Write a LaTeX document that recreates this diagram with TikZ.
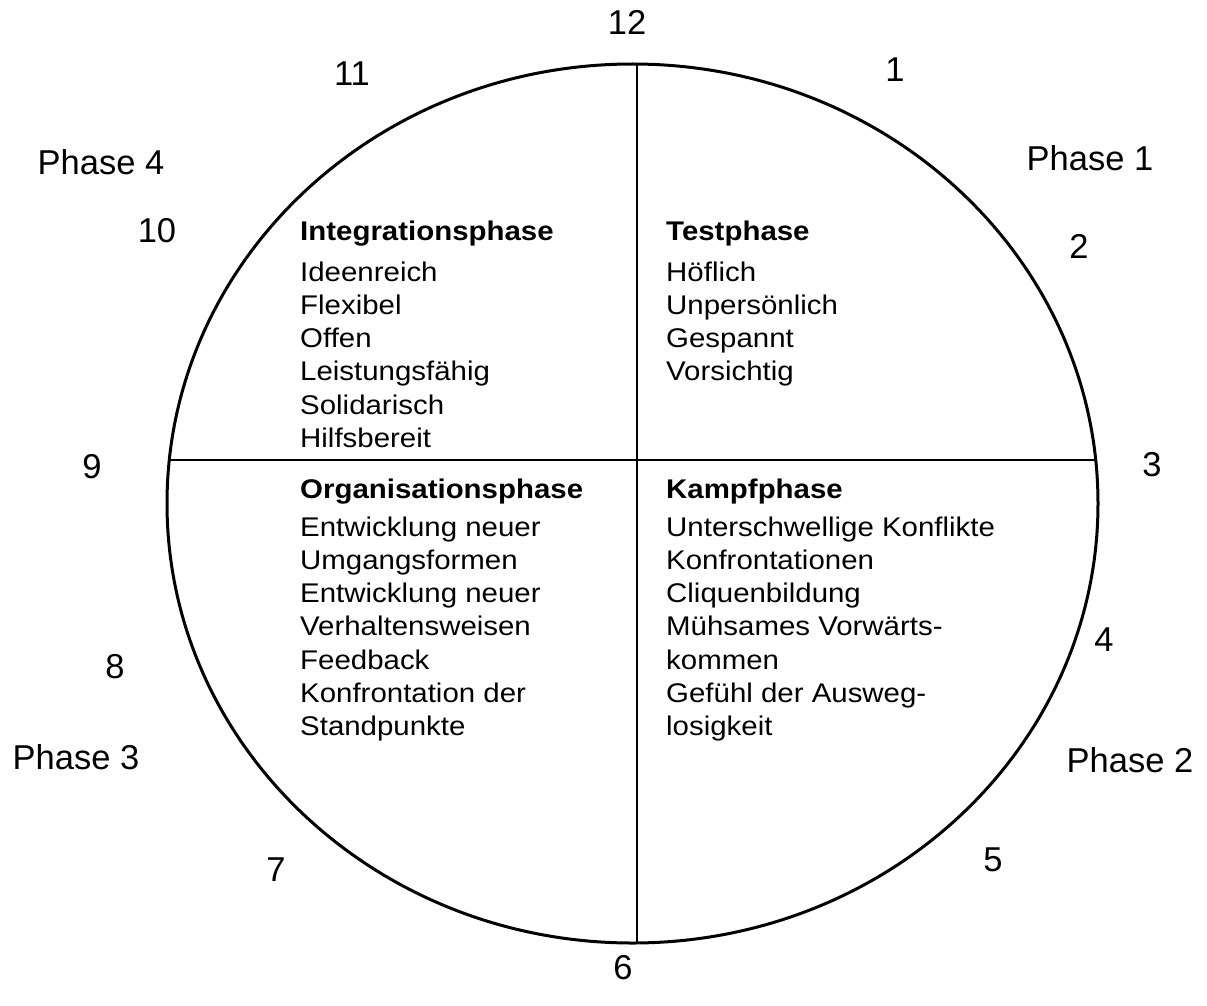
\documentclass[tikz,border=0pt]{standalone}
\usepackage{fontspec}
\setmainfont{Liberation Sans}
\newfontfamily\bodyfont[FakeStretch=1.09]{Liberation Sans}
\begin{document}
\begin{tikzpicture}[x=1pt,y=-1pt,
  body/.style={anchor=base west,inner sep=0pt,font=\bodyfont\fontsize{27}{33}\selectfont},
  head/.style={body,font=\bodyfont\bfseries\fontsize{27}{33}\selectfont},
  lab/.style={anchor=center,inner sep=0pt,font=\fontsize{34.5}{40}\selectfont},
  rim/.style={line width=3pt},
  divider/.style={line width=2.5pt}]
\useasboundingbox (0,0) rectangle (1207,1006);
% circle and quadrant lines
\draw[rim] (632.5,503.5) ellipse [x radius=465.5, y radius=439.5];
\coordinate (top) at (637,64);
\coordinate (bot) at (637,943);
\coordinate (lft) at (169,460);
\coordinate (rgt) at (1096,460);
\draw[divider] (top) -- (bot);
\draw[divider] (lft) -- (rgt);
% clock numbers and phase labels
\node[lab] (n12) at (627,22) {12};
\node[lab] (n1) at (895,70) {1};
\node[lab] (n11) at (352,74) {11};
\node[lab] (p4) at (101,162) {Phase 4};
\node[lab] (p1) at (1090,158) {Phase 1};
\node[lab] (n10) at (157,231) {10};
\node[lab] (n2) at (1079,246) {2};
\node[lab] (n3) at (1152,465) {3};
\node[lab] (n9) at (92,467) {9};
\node[lab] (n4) at (1104,640) {4};
\node[lab] (n8) at (115,667) {8};
\node[lab] (p3) at (76,757) {Phase 3};
\node[lab] (p2) at (1130,760) {Phase 2};
\node[lab] (n7) at (276,870) {7};
\node[lab] (n5) at (993,860) {5};
\node[lab] (n6) at (623,968) {6};
% quadrant texts
\node[head] (hUL) at (300,240) {Integrationsphase};
\foreach \t [count=\i] in {Ideenreich,Flexibel,Offen,Leistungsfähig,Solidarisch,Hilfsbereit}
  \node[body] (ul\i) at (300,{281+33.3*(\i-1)}) {\t};
\node[head] (hUR) at (666,240) {Testphase};
\foreach \t [count=\i] in {Höflich,Unpersönlich,Gespannt,Vorsichtig}
  \node[body] (ur\i) at (666,{281+33.3*(\i-1)}) {\t};
\node[head] (hLL) at (300,498) {Organisationsphase};
\foreach \t [count=\i] in {Entwicklung neuer,Umgangsformen,Entwicklung neuer,Verhaltensweisen,Feedback,Konfrontation der,Standpunkte}
  \node[body] (ll\i) at (300,{536+33.3*(\i-1)}) {\t};
\node[head] (hLR) at (666,498) {Kampfphase};
\foreach \t [count=\i] in {Unterschwellige Konflikte,Konfrontationen,Cliquenbildung,Mühsames Vorwärts-,kommen,Gefühl der Ausweg-,losigkeit}
  \node[body] (lr\i) at (666,{536+33.3*(\i-1)}) {\t};
\end{tikzpicture}
\end{document}
